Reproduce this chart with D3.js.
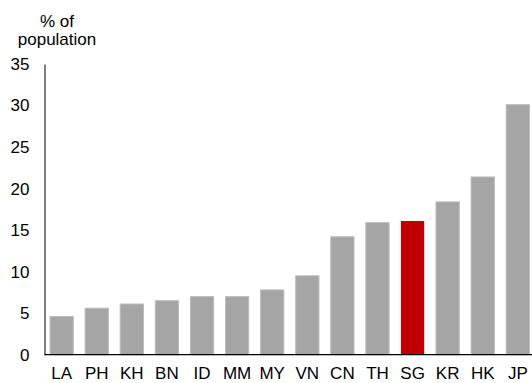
<!DOCTYPE html>
<html>
<head>
<meta charset="utf-8">
<script src="https://cdn.jsdelivr.net/npm/d3@7"></script>
<style>
  html, body { margin: 0; padding: 0; background: #fff; }
  svg { display: block; font-family: "Liberation Sans", Arial, sans-serif; }
</style>
</head>
<body>
<svg id="chart" width="532" height="383"></svg>
<script>
// Population share by economy
const categories = ["LA", "PH", "KH", "BN", "ID", "MM", "MY", "VN", "CN", "TH", "SG", "KR", "HK", "JP"];
const values = [4.6, 5.6, 6.1, 6.5, 7.0, 7.0, 7.8, 9.5, 14.2, 15.9, 16.1, 18.4, 21.4, 30.1];
const highlight = ["SG"];
const yTicks = [0, 5, 10, 15, 20, 25, 30, 35];
const yTitle = ["% of", "population"];

const svg = d3.select("#chart");
const W = 532, H = 383;
const axisX = 44.5, baseY = 354.7, topY = 64;
const fontSize = 17;

const x = d3.scaleBand()
  .domain(categories)
  .range([axisX, 535])
  .paddingInner(0.336)
  .paddingOuter(0.157);

const y = d3.scaleLinear()
  .domain([0, 35])
  .range([baseY, topY]);

// bars
svg.append("g")
  .selectAll("rect")
  .data(categories)
  .join("rect")
  .attr("x", d => x(d))
  .attr("width", x.bandwidth())
  .attr("y", (d, i) => y(values[i]))
  .attr("height", (d, i) => y(0) - y(values[i]))
  .attr("fill", d => highlight.includes(d) ? "#c00000" : "#a5a5a5")
  .attr("stroke", d => highlight.includes(d) ? "none" : "#bdbdbd")
  .attr("stroke-width", 1);

// y axis
const yAxis = d3.axisLeft(y).tickValues(yTicks).tickSize(0).tickPadding(15);
const gy = svg.append("g")
  .attr("transform", `translate(${axisX},0)`)
  .call(yAxis);
gy.select(".domain").attr("stroke", "#000").attr("stroke-width", 1);
gy.selectAll("text").attr("font-size", fontSize).attr("fill", "#000")
  .attr("font-family", "Liberation Sans, Arial, sans-serif");

// x axis: labels sit on a fixed baseline near the bottom edge
const xAxis = d3.axisBottom(x).tickSize(0);
const gx = svg.append("g")
  .attr("transform", `translate(0,${y(0)})`)
  .call(xAxis);
gx.select(".domain").attr("stroke", "#000").attr("stroke-width", 1.2)
  .attr("d", `M${axisX},0H${W}`);
gx.selectAll("text")
  .attr("y", 379.3 - y(0))
  .attr("dy", 0)
  .attr("font-size", fontSize).attr("fill", "#000")
  .attr("font-family", "Liberation Sans, Arial, sans-serif");

// axis title
svg.append("text")
  .attr("y", 27)
  .attr("text-anchor", "middle")
  .attr("font-size", fontSize)
  .attr("fill", "#000")
  .selectAll("tspan")
  .data(yTitle)
  .join("tspan")
  .attr("x", 57)
  .attr("dy", (d, i) => i === 0 ? 0 : 18)
  .text(d => d);
</script>
</body>
</html>
